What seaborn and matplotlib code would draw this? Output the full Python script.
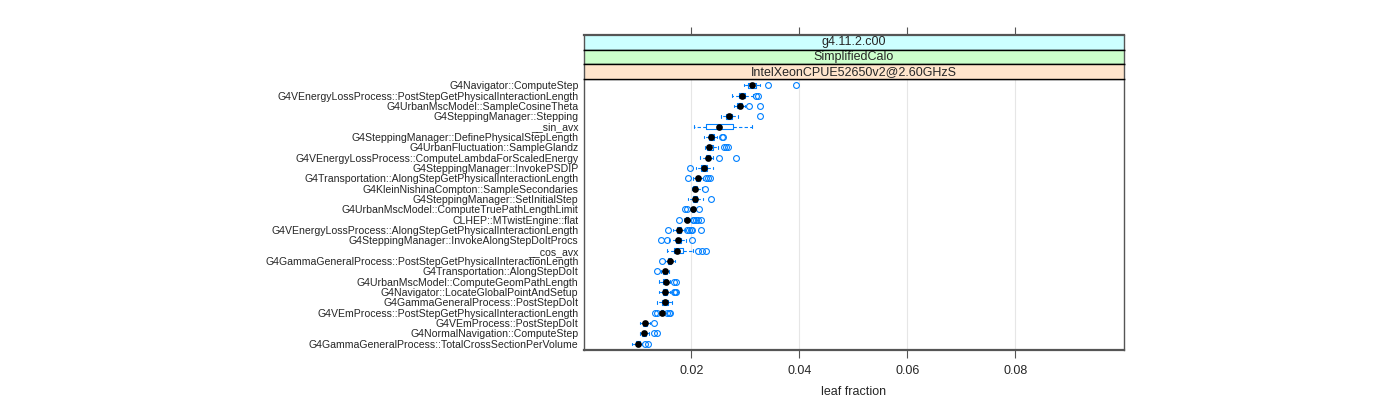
import numpy as np
import pandas as pd
import matplotlib
matplotlib.use("Agg")
import matplotlib.pyplot as plt
import seaborn as sns

# profiled functions, top to bottom
functions = [
    "G4Navigator::ComputeStep",
    "G4VEnergyLossProcess::PostStepGetPhysicalInteractionLength",
    "G4UrbanMscModel::SampleCosineTheta",
    "G4SteppingManager::Stepping",
    "__sin_avx",
    "G4SteppingManager::DefinePhysicalStepLength",
    "G4UrbanFluctuation::SampleGlandz",
    "G4VEnergyLossProcess::ComputeLambdaForScaledEnergy",
    "G4SteppingManager::InvokePSDIP",
    "G4Transportation::AlongStepGetPhysicalInteractionLength",
    "G4KleinNishinaCompton::SampleSecondaries",
    "G4SteppingManager::SetInitialStep",
    "G4UrbanMscModel::ComputeTruePathLengthLimit",
    "CLHEP::MTwistEngine::flat",
    "G4VEnergyLossProcess::AlongStepGetPhysicalInteractionLength",
    "G4SteppingManager::InvokeAlongStepDoItProcs",
    "__cos_avx",
    "G4GammaGeneralProcess::PostStepGetPhysicalInteractionLength",
    "G4Transportation::AlongStepDoIt",
    "G4UrbanMscModel::ComputeGeomPathLength",
    "G4Navigator::LocateGlobalPointAndSetup",
    "G4GammaGeneralProcess::PostStepDoIt",
    "G4VEmProcess::PostStepGetPhysicalInteractionLength",
    "G4VEmProcess::PostStepDoIt",
    "G4NormalNavigation::ComputeStep",
    "G4GammaGeneralProcess::TotalCrossSectionPerVolume",
]

# leaf fraction per run, one list per function
fractions = [
    [.02978, .0300, .0303, .03052, .0308, .0310, .0312, .0315, .0317, .03189, .03269, .0341, .03941],
    [.02756, .0282, .0285, .0288, .0290, .0292, .0293, .0295, .0297, .0299, .03144, .03189, .03231],
    [.02787, .0281, .0283, .02848, .0287, .0289, .02898, .0291, .0292, .0293, .02991, .03065, .03263],
    [.02541, .0259, .0262, .02644, .0266, .0268, .02694, .0272, .0274, .02756, .0280, .02856, .03274],
    [.02046, .0214, .0220, .02263, .0235, .0244, .02509, .0260, .0270, .02763, .0285, .0300, .03126],
    [.02226, .0227, .0230, .0233, .0235, .0236, .02367, .0238, .0240, .0241, .02467, .02559, .02583],
    [.0225, .0226, .0227, .02275, .0228, .0230, .0231, .0232, .0233, .0235, .0236, .0238, .0240,
     .02491, .02607, .02639, .02681],
    [.02163, .0220, .0224, .02263, .0228, .0230, .02311, .0232, .0234, .0235, .02404, .02504, .0283],
    [.01978, .02083, .0214, .02176, .0220, .0222, .02231, .0225, .0227, .02281, .0232, .0236, .02393],
    [.0193, .02033, .0205, .0207, .0208, .0210, .0211, .0211, .0212, .0213, .0214, .0214, .0215,
     .02219, .02269, .0230, .02337],
    [.02004, .0201, .0202, .02033, .0205, .0206, .0207, .0208, .0209, .02107, .0215, .02189, .0225],
    [.0193, .0197, .0200, .02022, .0204, .0205, .02065, .0208, .0209, .02107, .0218, .0222, .02356],
    [.01885, .01917, .0200, .0201, .0202, .0202, .0203, .0204, .0204, .0205, .0206, .0207, .02139],
    [.01774, .0187, .01875, .0188, .01885, .0189, .0190, .0190, .0191, .0191, .01911,
     .0191, .0192, .0192, .0193, .0193, .02022, .02052, .02089, .02126, .02181],
    [.01559, .01652, .0168, .0170, .0171, .0172, .0173, .0174, .0175, .0175, .0176, .0176, .01769,
     .0177, .0178, .0178, .0179, .0179, .0180, .0188, .01917, .01954, .01985, .02015, .02176],
    [.01441, .01541, .01578, .01707, .0173, .0174, .01756, .0177, .0179, .01806, .0185, .01898, .02004],
    [.01552, .0160, .0164, .0166, .01681, .0170, .0171, .0172, .01737, .0176, .0178, .0182, .01848,
     .02033, .0212, .02189, .02263],
    [.01448, .01507, .0154, .0157, .0158, .0159, .01602, .0161, .0162, .0163, .0166, .0168, .01694],
    [.0136, .01435, .0146, .0148, .0150, .0151, .01515, .0153, .0154, .0155, .0157, .0158, .01583],
    [.01404, .0144, .0146, .0148, .0150, .0151, .01522, .0153, .0154, .0155, .01602, .0167, .01707],
    [.01404, .0143, .0145, .0147, .0148, .0149, .0150, .0151, .01515, .0152, .0153, .0154, .0155,
     .01602, .0167, .01694, .01707],
    [.01367, .0140, .0143, .01448, .0147, .0149, .01504, .0152, .0154, .01559, .0159, .0161, .01633],
    [.01324, .01367, .0142, .0143, .0144, .0145, .0145, .01455, .01459, .0146, .0146, .0147, .0147,
     .0149, .01541, .01578, .01607],
    [.01046, .0107, .0109, .0110, .0112, .0113, .01139, .0115, .0116, .0117, .0120, .01231, .01311],
    [.01046, .0107, .0108, .01089, .0110, .0111, .01126, .0114, .0115, .01167, .01213, .01306, .01367],
    [.0090, .0094, .0096, .0098, .0100, .0101, .01015, .0102, .0103, .0104, .01089, .01139, .01189],
]

strip_labels = ["g4.11.2.c00", "SimplifiedCalo", "IntelXeonCPUE52650v2@2.60GHzS"]
strip_colors = ["#ccffff", "#ccffcc", "#ffe5cc"]
x_ticks = [0.02, 0.04, 0.06, 0.08]
x_tick_labels = ["0.02", "0.04", "0.06", "0.08"]

df = pd.DataFrame({
    "function": np.repeat(functions, [len(v) for v in fractions]),
    "fraction": np.concatenate(fractions),
})

sns.set_style("white")
plt.rcParams["font.family"] = ["Liberation Sans", "DejaVu Sans"]

BLUE = "#0080ff"
FRAME = "#555555"
xlim = (0.0001, 0.1001)

fig = plt.figure(figsize=(14, 4), dpi=100)
ax = fig.add_axes([0.41714, 0.125, 0.38571, 0.6775])

for t in x_ticks:
    ax.axvline(t, color="#e6e6e6", lw=0.8, zorder=0)

sns.boxplot(data=df, x="fraction", y="function", order=functions, orient="h",
            width=0.5, whis=1.5, fill=False, color=BLUE, linewidth=0.8,
            fliersize=4.2,
            flierprops=dict(marker="o", markerfacecolor="none",
                            markeredgecolor=BLUE, markeredgewidth=0.8),
            whiskerprops=dict(linestyle=(0, (3, 2))),
            medianprops=dict(visible=False), ax=ax)

sns.pointplot(data=df, x="fraction", y="function", order=functions, orient="h",
              estimator="median", errorbar=None, linestyle="none", marker="o",
              color="black", markersize=2.8, ax=ax)

ax.set_xlim(*xlim)
ax.set_ylim(len(functions) - 0.4, -0.6)
ax.set_xticks(x_ticks)
ax.set_xticklabels(x_tick_labels)
ax.tick_params(axis="x", direction="out", length=6, width=0.8, color=FRAME,
               labelsize=9, pad=5, bottom=True)
ax.tick_params(axis="y", length=0, labelsize=7.6, pad=4)
ax.set_ylabel("")
ax.set_xlabel("leaf fraction", fontsize=9, labelpad=6)
for s in ax.spines.values():
    s.set_color(FRAME)
    s.set_linewidth(1.0)
ax.spines["bottom"].set_linewidth(1.6)

# conditioning strips above the panel
h = 0.03667
for i, (lab, col) in enumerate(zip(strip_labels, strip_colors)):
    sax = fig.add_axes([0.41714, 0.8025 + (2 - i) * h, 0.38571, h])
    sax.set_facecolor(col)
    sax.set_xlim(*xlim)
    sax.set_yticks([])
    sax.text(0.5, 0.5, lab, transform=sax.transAxes, ha="center", va="center",
             fontsize=9)
    for name, s in sax.spines.items():
        s.set_color("black" if name in ("top", "bottom") else FRAME)
        s.set_linewidth(1.0)
    if i == 0:
        sax.spines["top"].set_color(FRAME)
        sax.spines["top"].set_linewidth(1.6)
        sax.xaxis.tick_top()
        sax.set_xticks(x_ticks)
        sax.set_xticklabels([])
        sax.tick_params(axis="x", direction="out", length=6, width=0.8,
                        color=FRAME, top=True)
    else:
        sax.set_xticks([])

fig.savefig("out.png", dpi=100)
